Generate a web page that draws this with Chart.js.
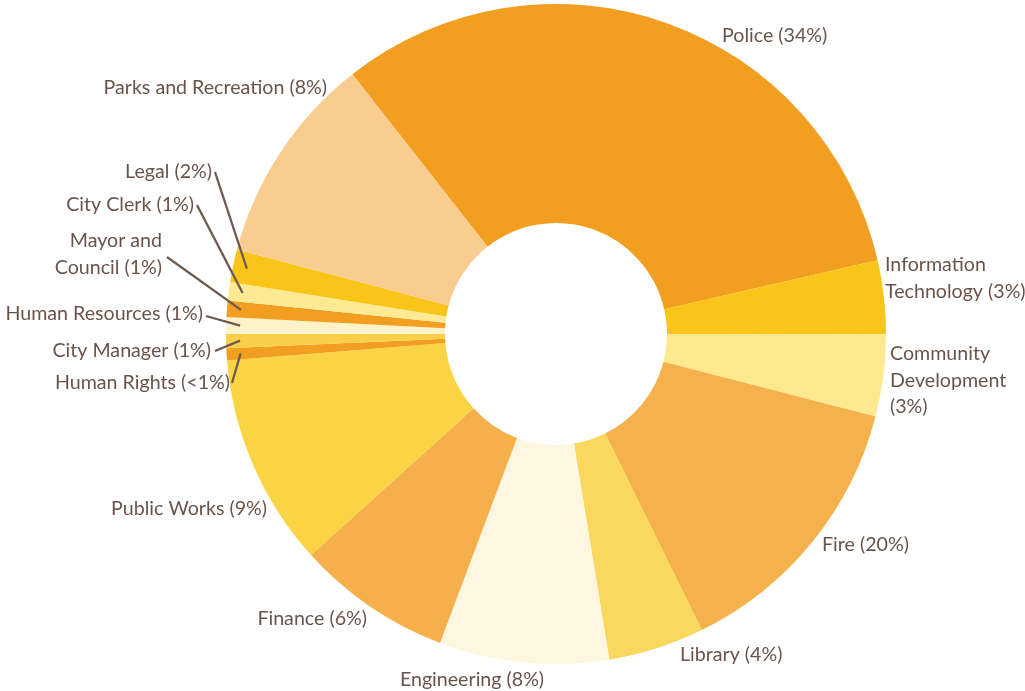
<!DOCTYPE html>
<html>
<head>
<meta charset="utf-8">
<script src="https://cdn.jsdelivr.net/npm/chart.js@4.4.1/dist/chart.umd.min.js"></script>
<style>
  html, body { margin: 0; padding: 0; background: #ffffff; }
  #wrap { width: 1025px; height: 691px; position: relative; }
</style>
</head>
<body>
<div id="wrap"><canvas id="c" width="1025" height="691"></canvas></div>
<script>
// ---- data ----
const categories = ["Police", "Information Technology", "Community Development", "Fire", "Library",
  "Engineering", "Finance", "Public Works", "Human Rights", "City Manager", "Human Resources",
  "Mayor and Council", "City Clerk", "Legal", "Parks and Recreation"];
const shareValues = [32.0, 3.6, 4.0, 13.7, 4.7, 8.3, 7.6, 10.4, 0.6, 0.7, 0.8, 0.8, 0.9, 1.6, 10.3];
const percentLabels = ["34%", "3%", "3%", "20%", "4%", "8%", "6%", "9%", "<1%", "1%", "1%", "1%", "1%", "2%", "8%"];

// ---- styles ----
const sliceColors = ["#F29E21", "#F9C519", "#FEE98F", "#F5B14B", "#FAD85D", "#FEF6DE", "#F5B04C",
  "#FBD445", "#F29E21", "#FAD04A", "#FEF2C8", "#F29E21", "#FEEA93", "#F9C519", "#F9CC8F"];
const textColor = "#6A544A";
const lineColor = "#6F5A4F";

// label placement (x, y of first line centre, alignment, words per line, leader start)
const labelLayout = [
  { x: 722, y: 36, align: "left" },
  { x: 885, y: 265, align: "left", lines: [1, 2] },
  { x: 890, y: 354, align: "left", lines: [1, 1, 1] },
  { x: 822, y: 545, align: "left" },
  { x: 680, y: 655, align: "left" },
  { x: 472, y: 680, align: "center" },
  { x: 367, y: 619, align: "right" },
  { x: 267, y: 509, align: "right" },
  { x: 230, y: 383, align: "right", lead: [232, 383] },
  { x: 211, y: 351, align: "right", lead: [215, 351] },
  { x: 203, y: 314, align: "right", lead: [206, 316] },
  { x: 162, y: 241, align: "right", lines: [2, 2], lead: [167, 257] },
  { x: 194, y: 205, align: "right", lead: [197, 205] },
  { x: 212, y: 172, align: "right", lead: [215, 172] },
  { x: 327, y: 87.5, align: "right" }
];

function labelLinesFor(i) {
  const words = (categories[i] + " (" + percentLabels[i] + ")").split(" ");
  const spec = labelLayout[i].lines;
  if (!spec) return [words.join(" ")];
  const out = []; let k = 0;
  spec.forEach(n => { out.push(words.slice(k, k + n).join(" ")); k += n; });
  if (k < words.length) out[out.length - 1] += " " + words.slice(k).join(" ");
  return out;
}

const canvas = document.getElementById("c");
const mctx = canvas.getContext("2d");
mctx.font = "20px Lato";
const fontSize = 0.985 * 20 * 227 / mctx.measureText("Parks and Recreation (8%)").width;

const labelPlugin = {
  id: "sliceLabels",
  afterDatasetsDraw(chart) {
    const ctx = chart.ctx;
    const meta = chart.getDatasetMeta(0);
    ctx.save();
    meta.data.forEach((arc, i) => {
      const L = labelLayout[i];
      if (L.lead) {
        const p = arc.getProps(["x", "y", "startAngle", "endAngle", "outerRadius"], true);
        const mid = (p.startAngle + p.endAngle) / 2;
        const r = p.outerRadius - 14;
        ctx.beginPath();
        ctx.strokeStyle = lineColor;
        ctx.lineWidth = 2.3;
        ctx.lineCap = "butt";
        ctx.moveTo(L.lead[0], L.lead[1]);
        ctx.lineTo(p.x + r * Math.cos(mid), p.y + r * Math.sin(mid));
        ctx.stroke();
      }
      ctx.font = fontSize.toFixed(2) + "px Lato";
      ctx.fillStyle = textColor;
      ctx.textAlign = L.align;
      ctx.textBaseline = "middle";
      labelLinesFor(i).forEach((ln, k) => ctx.fillText(ln, L.x, L.y + k * 26.3));
    });
    ctx.restore();
  }
};

new Chart(canvas, {
  type: "doughnut",
  data: {
    labels: categories,
    datasets: [{
      data: shareValues,
      backgroundColor: sliceColors,
      borderWidth: 0,
      hoverOffset: 0
    }]
  },
  options: {
    responsive: false,
    animation: false,
    events: [],
    rotation: 321.9,
    radius: 330,
    cutout: 111,
    layout: { padding: { left: 226, right: 139, top: 4, bottom: 27 } },
    plugins: { legend: { display: false }, tooltip: { enabled: false } }
  },
  plugins: [labelPlugin]
});
</script>
</body>
</html>
